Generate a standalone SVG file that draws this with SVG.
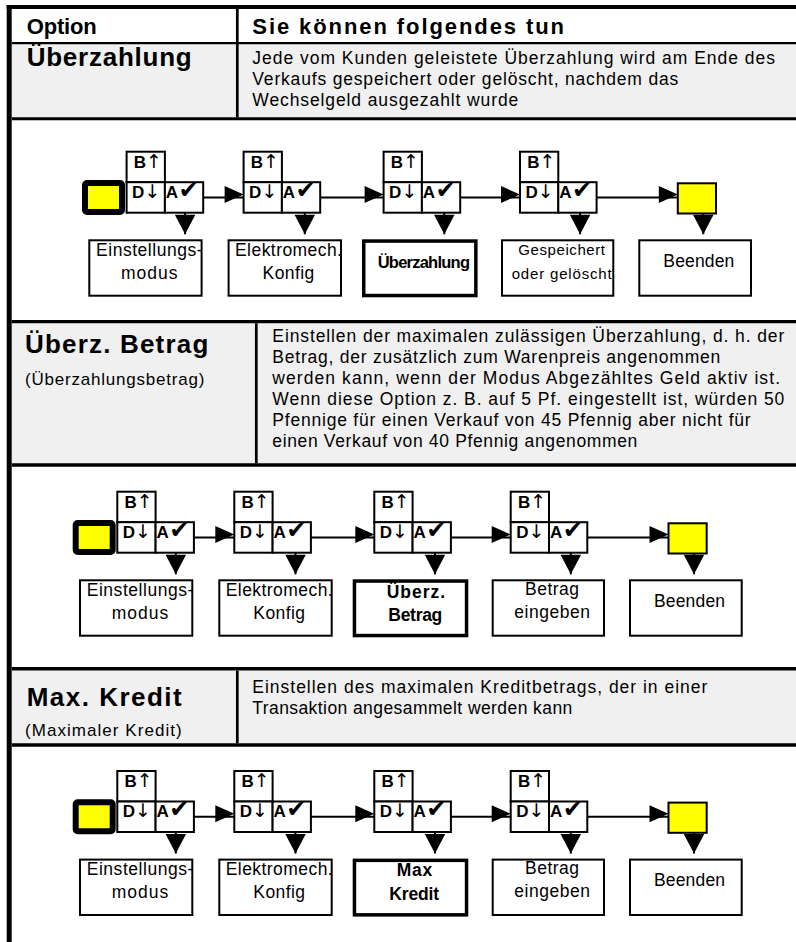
<svg xmlns="http://www.w3.org/2000/svg" width="796" height="942" viewBox="0 0 796 942">
<style>
.t{font-family:"Liberation Sans",Arial,sans-serif;fill:#000}
.hdr{font-size:22px;font-weight:bold}
.opt{font-size:26px;font-weight:bold}
.txt{font-size:17.5px}
.sub{font-size:17px}
.lbl{font-size:17.5px}
.sm{font-size:15px}
.b{font-weight:bold}
.cond{font-size:16.5px;font-weight:bold}
.key{font-family:"Liberation Sans",Arial,sans-serif;font-size:17px;font-weight:bold;fill:#000}
.sym{font-family:"DejaVu Sans",sans-serif;font-weight:normal;font-size:19px}
.chk{font-size:24px}
.box{fill:#fff;stroke:#000;stroke-width:2}
.cur{fill:#fff;stroke:#000;stroke-width:3.5}
.kbox{fill:#fff;stroke:#000;stroke-width:2}
.start{fill:#ffff00;stroke:#000;stroke-width:6}
.end{fill:#ffff00;stroke:#000;stroke-width:2}
.conn line{stroke:#000;stroke-width:2;fill:none}
.gray{fill:#f0f0f0}
.rule{stroke:#000;fill:none}
</style>
<defs>
<marker id="ah" markerUnits="userSpaceOnUse" markerWidth="19" markerHeight="17" viewBox="0 0 19 17" refX="19" refY="11.5" orient="auto" overflow="visible"><path d="M0,0 L19,8.5 L0,17 Z" fill="#000"/></marker>
<marker id="dn" markerUnits="userSpaceOnUse" markerWidth="19.5" markerHeight="20.5" viewBox="0 0 19.5 20.5" refX="19.5" refY="10.25" orient="auto" overflow="visible"><path d="M0,0 L19.5,10.25 L0,20.5 Z" fill="#000"/></marker>
</defs>
<rect width="796" height="942" fill="#fff"/>

<g id="table">
<rect class="gray" x="11.7" y="44.3" width="784.3" height="73"/>
<rect class="gray" x="11.7" y="323.3" width="784.3" height="140"/>
<rect class="gray" x="11.7" y="670.5" width="784.3" height="73"/>
<line class="rule" x1="6.7" y1="7" x2="796" y2="7" stroke-width="4"/>
<line class="rule" x1="9.2" y1="5" x2="9.2" y2="942" stroke-width="5"/>
<line class="rule" x1="11.7" y1="43.2" x2="796" y2="43.2" stroke-width="2.3"/>
<line class="rule" x1="237.3" y1="9" x2="237.3" y2="117.3" stroke-width="2.7"/>
<line class="rule" x1="11.7" y1="118.7" x2="796" y2="118.7" stroke-width="3"/>
<line class="rule" x1="11.7" y1="321.7" x2="796" y2="321.7" stroke-width="3.3"/>
<line class="rule" x1="256.3" y1="323.3" x2="256.3" y2="463.3" stroke-width="2.7"/>
<line class="rule" x1="11.7" y1="465" x2="796" y2="465" stroke-width="3.3"/>
<line class="rule" x1="11.7" y1="668.7" x2="796" y2="668.7" stroke-width="3.5"/>
<line class="rule" x1="237.3" y1="670.5" x2="237.3" y2="743.3" stroke-width="2.7"/>
<line class="rule" x1="11.7" y1="745" x2="796" y2="745" stroke-width="3.3"/>

<text class="t hdr" x="26.7" y="34" textLength="70">Option</text>
<text class="t hdr" x="252.3" y="34" textLength="311.7">Sie können folgendes tun</text>

<text class="t opt" x="26.7" y="66" textLength="165">Überzahlung</text>
<text class="t txt" x="252.3" y="63.5" textLength="522.7">Jede vom Kunden geleistete Überzahlung wird am Ende des</text>
<text class="t txt" x="252.3" y="84.5" textLength="426">Verkaufs gespeichert oder gelöscht, nachdem das</text>
<text class="t txt" x="252.3" y="105.5" textLength="266">Wechselgeld ausgezahlt wurde</text>

<text class="t opt" x="25" y="353" textLength="183.3">Überz. Betrag</text>
<text class="t sub" x="25" y="385" textLength="179.3">(Überzahlungsbetrag)</text>
<text class="t txt" x="272.3" y="342" textLength="512">Einstellen der maximalen zulässigen Überzahlung, d. h. der</text>
<text class="t txt" x="272.3" y="363" textLength="448">Betrag, der zusätzlich zum Warenpreis angenommen</text>
<text class="t txt" x="272.3" y="384" textLength="507.7">werden kann, wenn der Modus Abgezähltes Geld aktiv ist.</text>
<text class="t txt" x="272.3" y="405" textLength="512">Wenn diese Option z. B. auf 5 Pf. eingestellt ist, würden 50</text>
<text class="t txt" x="272.3" y="426" textLength="478.4">Pfennige für einen Verkauf von 45 Pfennig aber nicht für</text>
<text class="t txt" x="272.3" y="447" textLength="365">einen Verkauf von 40 Pfennig angenommen</text>

<text class="t opt" x="26.7" y="705.5" textLength="155">Max. Kredit</text>
<text class="t sub" x="25" y="736" textLength="156.7">(Maximaler Kredit)</text>
<text class="t txt" x="252.3" y="692.5" textLength="455">Einstellen des maximalen Kreditbetrags, der in einer</text>
<text class="t txt" x="252.3" y="713.5" textLength="320">Transaktion angesammelt werden kann</text>
</g>

<!-- Flow 1 -->
<g id="flow1" transform="translate(9.3,-340)">
<g id="f1-start"><rect class="start" x="75.7" y="523" width="37" height="29" rx="2"/></g>
<g id="f1-keys1">
<rect class="kbox" x="117.3" y="491.7" width="38.3" height="30.5"/><rect class="kbox" x="117.3" y="522.2" width="38.3" height="30.5"/><rect class="kbox" x="155.6" y="522.2" width="38.3" height="30.5"/>
<text class="key" x="124.5" y="507.5">B<tspan class="sym">↑</tspan></text>
<text class="key" x="122.8" y="537.5">D<tspan class="sym">↓</tspan></text>
<text class="key" x="156.5" y="537.5">A<tspan class="sym chk" dx="0.5">✔</tspan></text>
</g>
<g id="f1-keys2">
<rect class="kbox" x="234.3" y="491.7" width="38.3" height="30.5"/><rect class="kbox" x="234.3" y="522.2" width="38.3" height="30.5"/><rect class="kbox" x="272.6" y="522.2" width="38.3" height="30.5"/>
<text class="key" x="241.5" y="507.5">B<tspan class="sym">↑</tspan></text>
<text class="key" x="239.8" y="537.5">D<tspan class="sym">↓</tspan></text>
<text class="key" x="273.5" y="537.5">A<tspan class="sym chk" dx="0.5">✔</tspan></text>
</g>
<g id="f1-keys3">
<rect class="kbox" x="374.3" y="491.7" width="38.3" height="30.5"/><rect class="kbox" x="374.3" y="522.2" width="38.3" height="30.5"/><rect class="kbox" x="412.6" y="522.2" width="38.3" height="30.5"/>
<text class="key" x="381.5" y="507.5">B<tspan class="sym">↑</tspan></text>
<text class="key" x="379.8" y="537.5">D<tspan class="sym">↓</tspan></text>
<text class="key" x="413.5" y="537.5">A<tspan class="sym chk" dx="0.5">✔</tspan></text>
</g>
<g id="f1-keys4">
<rect class="kbox" x="510.7" y="491.7" width="38.3" height="30.5"/><rect class="kbox" x="510.7" y="522.2" width="38.3" height="30.5"/><rect class="kbox" x="549" y="522.2" width="38.3" height="30.5"/>
<text class="key" x="517.9" y="507.5">B<tspan class="sym">↑</tspan></text>
<text class="key" x="516.2" y="537.5">D<tspan class="sym">↓</tspan></text>
<text class="key" x="549.9" y="537.5">A<tspan class="sym chk" dx="0.5">✔</tspan></text>
</g>
<g id="f1-end"><rect class="end" x="668.5" y="523.3" width="38.2" height="30.2"/></g>
<g id="f1-mode"><rect class="box" x="80" y="580.3" width="112.3" height="55.4"/>
<text class="t lbl" x="86.7" y="595.7" textLength="106.6">Einstellungs-</text>
<text class="t lbl" x="111.7" y="619" textLength="56.6">modus</text></g>
<g id="f1-config"><rect class="box" x="219.3" y="580.3" width="112.4" height="55.4"/>
<text class="t lbl" x="225.7" y="595.7" textLength="107">Elektromech.</text>
<text class="t lbl" x="253.3" y="619" textLength="51.7">Konfig</text></g>
<g id="f1-option"><rect class="cur" x="354.45" y="581.05" width="112.1" height="54.5"/>
<text class="t cond" x="368.4" y="608.3" textLength="92.3">Überzahlung</text></g>
<g id="f1-value"><rect class="box" x="492.7" y="580.3" width="111.3" height="55.4"/>
<text class="t sm" x="509" y="595" textLength="86.7">Gespeichert</text>
<text class="t sm" x="502.4" y="619.3" textLength="100">oder gelöscht</text></g>
<g id="f1-exit"><rect class="box" x="630" y="580.3" width="111.7" height="55.4"/>
<text class="t lbl" x="654" y="606.7" textLength="71">Beenden</text></g>
<g id="f1-conn" class="conn">
<line x1="193.9" y1="537.5" x2="234.3" y2="537.5" marker-end="url(#ah)"/>
<line x1="310.9" y1="537.5" x2="374.3" y2="537.5" marker-end="url(#ah)"/>
<line x1="450.9" y1="537.5" x2="510.7" y2="537.5" marker-end="url(#ah)"/>
<line x1="587.3" y1="537.5" x2="668.5" y2="537.5" marker-end="url(#ah)"/>
<line x1="175.8" y1="552.7" x2="175.8" y2="574.3" marker-end="url(#dn)"/>
<line x1="295.5" y1="552.7" x2="295.5" y2="574.3" marker-end="url(#dn)"/>
<line x1="435" y1="552.7" x2="435" y2="574.3" marker-end="url(#dn)"/>
<line x1="570.8" y1="552.7" x2="570.8" y2="574.3" marker-end="url(#dn)"/>
<line x1="694" y1="553.5" x2="694" y2="574.3" marker-end="url(#dn)"/>
</g>
</g>

<!-- Flow 2 -->
<g id="flow2">
<g id="f2-start"><rect class="start" x="75.7" y="523" width="37" height="29" rx="2"/></g>
<g id="f2-keys1">
<rect class="kbox" x="117.3" y="491.7" width="38.3" height="30.5"/><rect class="kbox" x="117.3" y="522.2" width="38.3" height="30.5"/><rect class="kbox" x="155.6" y="522.2" width="38.3" height="30.5"/>
<text class="key" x="124.5" y="507.5">B<tspan class="sym">↑</tspan></text>
<text class="key" x="122.8" y="537.5">D<tspan class="sym">↓</tspan></text>
<text class="key" x="156.5" y="537.5">A<tspan class="sym chk" dx="0.5">✔</tspan></text>
</g>
<g id="f2-keys2">
<rect class="kbox" x="234.3" y="491.7" width="38.3" height="30.5"/><rect class="kbox" x="234.3" y="522.2" width="38.3" height="30.5"/><rect class="kbox" x="272.6" y="522.2" width="38.3" height="30.5"/>
<text class="key" x="241.5" y="507.5">B<tspan class="sym">↑</tspan></text>
<text class="key" x="239.8" y="537.5">D<tspan class="sym">↓</tspan></text>
<text class="key" x="273.5" y="537.5">A<tspan class="sym chk" dx="0.5">✔</tspan></text>
</g>
<g id="f2-keys3">
<rect class="kbox" x="374.3" y="491.7" width="38.3" height="30.5"/><rect class="kbox" x="374.3" y="522.2" width="38.3" height="30.5"/><rect class="kbox" x="412.6" y="522.2" width="38.3" height="30.5"/>
<text class="key" x="381.5" y="507.5">B<tspan class="sym">↑</tspan></text>
<text class="key" x="379.8" y="537.5">D<tspan class="sym">↓</tspan></text>
<text class="key" x="413.5" y="537.5">A<tspan class="sym chk" dx="0.5">✔</tspan></text>
</g>
<g id="f2-keys4">
<rect class="kbox" x="510.7" y="491.7" width="38.3" height="30.5"/><rect class="kbox" x="510.7" y="522.2" width="38.3" height="30.5"/><rect class="kbox" x="549" y="522.2" width="38.3" height="30.5"/>
<text class="key" x="517.9" y="507.5">B<tspan class="sym">↑</tspan></text>
<text class="key" x="516.2" y="537.5">D<tspan class="sym">↓</tspan></text>
<text class="key" x="549.9" y="537.5">A<tspan class="sym chk" dx="0.5">✔</tspan></text>
</g>
<g id="f2-end"><rect class="end" x="668.5" y="523.3" width="38.2" height="30.2"/></g>
<g id="f2-mode"><rect class="box" x="80" y="580.3" width="112.3" height="55.4"/>
<text class="t lbl" x="86.7" y="595.7" textLength="106.6">Einstellungs-</text>
<text class="t lbl" x="111.7" y="619" textLength="56.6">modus</text></g>
<g id="f2-config"><rect class="box" x="219.3" y="580.3" width="112.4" height="55.4"/>
<text class="t lbl" x="225.7" y="595.7" textLength="107">Elektromech.</text>
<text class="t lbl" x="253.3" y="619" textLength="51.7">Konfig</text></g>
<g id="f2-option"><rect class="cur" x="354.45" y="581.05" width="112.1" height="54.5"/>
<text class="t lbl b" x="386.7" y="597.7" textLength="58.3">Überz.</text>
<text class="t lbl b" x="388.3" y="620.5" textLength="54">Betrag</text></g>
<g id="f2-value"><rect class="box" x="492.7" y="580.3" width="111.3" height="55.4"/>
<text class="t lbl" x="525" y="594.5" textLength="54">Betrag</text>
<text class="t lbl" x="514.3" y="618" textLength="75.7">eingeben</text></g>
<g id="f2-exit"><rect class="box" x="630" y="580.3" width="111.7" height="55.4"/>
<text class="t lbl" x="654" y="606.7" textLength="71">Beenden</text></g>
<g id="f2-conn" class="conn">
<line x1="193.9" y1="537.5" x2="234.3" y2="537.5" marker-end="url(#ah)"/>
<line x1="310.9" y1="537.5" x2="374.3" y2="537.5" marker-end="url(#ah)"/>
<line x1="450.9" y1="537.5" x2="510.7" y2="537.5" marker-end="url(#ah)"/>
<line x1="587.3" y1="537.5" x2="668.5" y2="537.5" marker-end="url(#ah)"/>
<line x1="175.8" y1="552.7" x2="175.8" y2="574.3" marker-end="url(#dn)"/>
<line x1="295.5" y1="552.7" x2="295.5" y2="574.3" marker-end="url(#dn)"/>
<line x1="435" y1="552.7" x2="435" y2="574.3" marker-end="url(#dn)"/>
<line x1="570.8" y1="552.7" x2="570.8" y2="574.3" marker-end="url(#dn)"/>
<line x1="694" y1="553.5" x2="694" y2="574.3" marker-end="url(#dn)"/>
</g>
</g>

<!-- Flow 3 -->
<g id="flow3" transform="translate(0,279.3)">
<g id="f3-start"><rect class="start" x="75.7" y="523" width="37" height="29" rx="2"/></g>
<g id="f3-keys1">
<rect class="kbox" x="117.3" y="491.7" width="38.3" height="30.5"/><rect class="kbox" x="117.3" y="522.2" width="38.3" height="30.5"/><rect class="kbox" x="155.6" y="522.2" width="38.3" height="30.5"/>
<text class="key" x="124.5" y="507.5">B<tspan class="sym">↑</tspan></text>
<text class="key" x="122.8" y="537.5">D<tspan class="sym">↓</tspan></text>
<text class="key" x="156.5" y="537.5">A<tspan class="sym chk" dx="0.5">✔</tspan></text>
</g>
<g id="f3-keys2">
<rect class="kbox" x="234.3" y="491.7" width="38.3" height="30.5"/><rect class="kbox" x="234.3" y="522.2" width="38.3" height="30.5"/><rect class="kbox" x="272.6" y="522.2" width="38.3" height="30.5"/>
<text class="key" x="241.5" y="507.5">B<tspan class="sym">↑</tspan></text>
<text class="key" x="239.8" y="537.5">D<tspan class="sym">↓</tspan></text>
<text class="key" x="273.5" y="537.5">A<tspan class="sym chk" dx="0.5">✔</tspan></text>
</g>
<g id="f3-keys3">
<rect class="kbox" x="374.3" y="491.7" width="38.3" height="30.5"/><rect class="kbox" x="374.3" y="522.2" width="38.3" height="30.5"/><rect class="kbox" x="412.6" y="522.2" width="38.3" height="30.5"/>
<text class="key" x="381.5" y="507.5">B<tspan class="sym">↑</tspan></text>
<text class="key" x="379.8" y="537.5">D<tspan class="sym">↓</tspan></text>
<text class="key" x="413.5" y="537.5">A<tspan class="sym chk" dx="0.5">✔</tspan></text>
</g>
<g id="f3-keys4">
<rect class="kbox" x="510.7" y="491.7" width="38.3" height="30.5"/><rect class="kbox" x="510.7" y="522.2" width="38.3" height="30.5"/><rect class="kbox" x="549" y="522.2" width="38.3" height="30.5"/>
<text class="key" x="517.9" y="507.5">B<tspan class="sym">↑</tspan></text>
<text class="key" x="516.2" y="537.5">D<tspan class="sym">↓</tspan></text>
<text class="key" x="549.9" y="537.5">A<tspan class="sym chk" dx="0.5">✔</tspan></text>
</g>
<g id="f3-end"><rect class="end" x="668.5" y="523.3" width="38.2" height="30.2"/></g>
<g id="f3-mode"><rect class="box" x="80" y="580.3" width="112.3" height="55.4"/>
<text class="t lbl" x="86.7" y="595.7" textLength="106.6">Einstellungs-</text>
<text class="t lbl" x="111.7" y="619" textLength="56.6">modus</text></g>
<g id="f3-config"><rect class="box" x="219.3" y="580.3" width="112.4" height="55.4"/>
<text class="t lbl" x="225.7" y="595.7" textLength="107">Elektromech.</text>
<text class="t lbl" x="253.3" y="619" textLength="51.7">Konfig</text></g>
<g id="f3-option"><rect class="cur" x="354.45" y="581.05" width="112.1" height="54.5"/>
<text class="t lbl b" x="396.7" y="596.5" textLength="35.6">Max</text>
<text class="t lbl b" x="389.3" y="620.5" textLength="49.7">Kredit</text></g>
<g id="f3-value"><rect class="box" x="492.7" y="580.3" width="111.3" height="55.4"/>
<text class="t lbl" x="525" y="594.5" textLength="54">Betrag</text>
<text class="t lbl" x="514.3" y="618" textLength="75.7">eingeben</text></g>
<g id="f3-exit"><rect class="box" x="630" y="580.3" width="111.7" height="55.4"/>
<text class="t lbl" x="654" y="606.7" textLength="71">Beenden</text></g>
<g id="f3-conn" class="conn">
<line x1="193.9" y1="537.5" x2="234.3" y2="537.5" marker-end="url(#ah)"/>
<line x1="310.9" y1="537.5" x2="374.3" y2="537.5" marker-end="url(#ah)"/>
<line x1="450.9" y1="537.5" x2="510.7" y2="537.5" marker-end="url(#ah)"/>
<line x1="587.3" y1="537.5" x2="668.5" y2="537.5" marker-end="url(#ah)"/>
<line x1="175.8" y1="552.7" x2="175.8" y2="574.3" marker-end="url(#dn)"/>
<line x1="295.5" y1="552.7" x2="295.5" y2="574.3" marker-end="url(#dn)"/>
<line x1="435" y1="552.7" x2="435" y2="574.3" marker-end="url(#dn)"/>
<line x1="570.8" y1="552.7" x2="570.8" y2="574.3" marker-end="url(#dn)"/>
<line x1="694" y1="553.5" x2="694" y2="574.3" marker-end="url(#dn)"/>
</g>
</g>
</svg>
